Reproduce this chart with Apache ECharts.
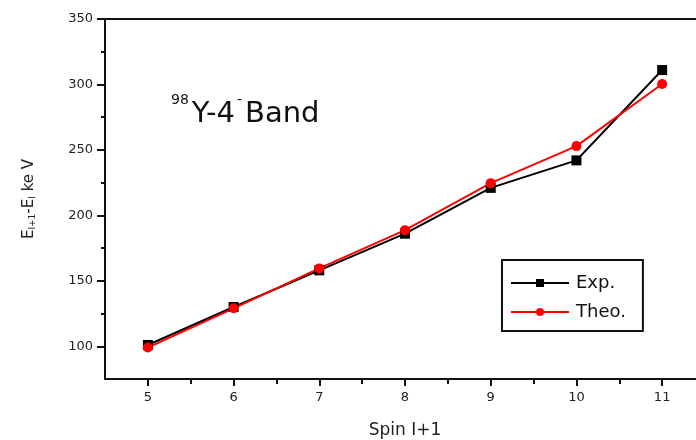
<!DOCTYPE html>
<html>
<head>
<meta charset="utf-8">
<script src="https://cdn.jsdelivr.net/npm/echarts@6/dist/echarts.min.js"></script>
<style>
html,body{margin:0;padding:0;background:#fff;}
#chart{width:696px;height:440px;}
</style>
</head>
<body>
<div id="chart"></div>
<script>
var spins = [5, 6, 7, 8, 9, 10, 11];
var expValues = [101, 130, 158, 186, 221, 242, 311];
var theoValues = [99, 129, 159.5, 188.7, 224.6, 252.9, 300.3];
var yMajorTicks = [100, 150, 200, 250, 300, 350];
var yMinorTicks = [125, 175, 225, 275, 325];
var xMajorTicks = [5, 6, 7, 8, 9, 10, 11];
var xMinorTicks = [5.5, 6.5, 7.5, 8.5, 9.5, 10.5, 11.5];

function pairs(xs, ys) { return xs.map(function (x, i) { return [x, ys[i]]; }); }

var chart = echarts.init(document.getElementById('chart'), null, {renderer: 'canvas'});
var font = 'DejaVu Sans, sans-serif';
var ink = '#111';
var option = {
  animation: false,
  backgroundColor: '#fff',
  title: {
    text: '{sup|98}{big|Y-4}{sup|-}{big|Band}',
    left: 164, top: 88,
    textStyle: {
      rich: {
        big: {fontSize: 29, fontFamily: font, fontWeight: 'normal', color: ink, verticalAlign: 'bottom', lineHeight: 36},
        sup: {fontSize: 14, fontFamily: font, fontWeight: 'normal', color: ink, verticalAlign: 'top', lineHeight: 36, padding: [0, 3, 0, 2]}
      }
    }
  },
  grid: {left: 105, top: 19, width: 600, bottom: 61, show: false, containLabel: false, outerBoundsMode: 'none'},
  legend: {
    orient: 'vertical', left: 502, top: 260,
    padding: [12, 17, 8, 8], itemGap: 7,
    itemWidth: 58, itemHeight: 10,
    borderColor: ink, borderWidth: 2,
    textStyle: {fontSize: 18, fontFamily: font, color: ink, padding: [0, 0, 0, 2], lineHeight: 22},
    data: ['Exp.', 'Theo.']
  },
  xAxis: [{
    type: 'value', min: 4.5, max: 11.5,
    name: 'Spin I+1', nameLocation: 'middle', nameGap: 43,
    nameTextStyle: {fontSize: 17, fontFamily: font, color: '#222'},
    axisLine: {show: true, lineStyle: {color: ink, width: 2}},
    axisTick: {show: true, customValues: xMajorTicks, length: 7, lineStyle: {color: ink, width: 2}},
    axisLabel: {customValues: xMajorTicks, fontSize: 13, fontFamily: font, color: '#222', margin: 12},
    splitLine: {show: false}
  }, {
    type: 'value', min: 4.5, max: 11.5, position: 'bottom',
    axisLine: {show: false},
    axisTick: {show: true, customValues: xMinorTicks, length: 5, lineStyle: {color: ink, width: 2}},
    axisLabel: {show: false},
    splitLine: {show: false}
  }, {
    type: 'value', min: 4.5, max: 11.5, position: 'top',
    axisLine: {show: true, lineStyle: {color: ink, width: 2}},
    axisTick: {show: false},
    axisLabel: {show: false},
    splitLine: {show: false}
  }],
  yAxis: [{
    type: 'value', min: 75, max: 350,
    name: '{n|E}{s|I+1}{n|-E}{s|I}{n| ke V}', nameLocation: 'middle', nameGap: 68, nameRotate: 90,
    nameTextStyle: {
      rich: {
        n: {fontSize: 15, fontFamily: font, color: '#222', verticalAlign: 'bottom', lineHeight: 20},
        s: {fontSize: 9, fontFamily: font, color: '#222', verticalAlign: 'bottom', lineHeight: 15}
      }
    },
    axisLine: {show: true, lineStyle: {color: ink, width: 2}},
    axisTick: {show: true, customValues: yMajorTicks, length: 8, lineStyle: {color: ink, width: 2}},
    axisLabel: {customValues: yMajorTicks, fontSize: 13, fontFamily: font, color: '#222', margin: 12},
    splitLine: {show: false}
  }, {
    type: 'value', min: 75, max: 350, position: 'left',
    axisLine: {show: false},
    axisTick: {show: true, customValues: yMinorTicks, length: 4, lineStyle: {color: ink, width: 2}},
    axisLabel: {show: false},
    splitLine: {show: false}
  }],
  series: [{
    name: 'Exp.', type: 'line', xAxisIndex: 0, yAxisIndex: 0,
    data: pairs(spins, expValues),
    symbol: 'rect', symbolSize: 10,
    itemStyle: {color: '#000'},
    lineStyle: {color: '#000', width: 2}
  }, {
    name: 'Theo.', type: 'line', xAxisIndex: 0, yAxisIndex: 0,
    data: pairs(spins, theoValues),
    symbol: 'circle', symbolSize: 10,
    itemStyle: {color: '#ff0000'},
    lineStyle: {color: '#ff0000', width: 2}
  }]
};
chart.setOption(option);
</script>
</body>
</html>
